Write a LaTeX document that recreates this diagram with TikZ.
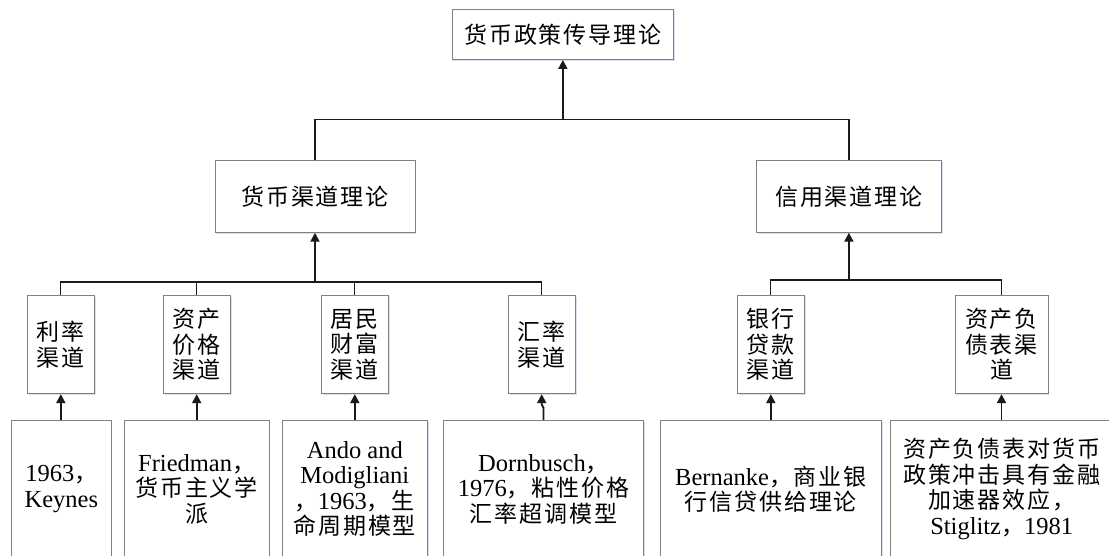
\documentclass[tikz,border=0pt]{standalone}
\usepackage{fontspec}
\setmainfont{Liberation Serif}
\newfontfamily\cjk[LetterSpace=8]{Noto Sans CJK SC}
\usetikzlibrary{arrows.meta,shadows}
\newcommand\zhs[1]{{\fontsize{23}{25.5}\cjk #1}}
\definecolor{boxgray}{HTML}{7F7F7F}
\definecolor{linec}{HTML}{1A1A1A}
\definecolor{shadowc}{HTML}{C8D4E6}
\begin{document}
\begin{tikzpicture}[x=1pt,y=-1pt,
  box/.style={draw=boxgray,line width=0.9pt,fill=white,inner sep=0pt,align=center,
    font=\fontsize{24.5}{25.5}\selectfont,
    drop shadow={shadow xshift=1.3pt,shadow yshift=-1.3pt,fill=shadowc,opacity=0.7}},
  chan/.style={box,minimum width=67pt,minimum height=98.4pt},
  bot/.style={box,minimum height=137.7pt},
  conn/.style={draw=linec,line width=1.3pt},
  arr/.style={draw=linec,line width=1.9pt,-{Triangle[width=9pt,length=9pt]}}]
\useasboundingbox (0,0) rectangle (1109,556);
\fill[white] (0,0) rectangle (1109,556);

% top and middle level
\node[box,minimum width=221.7pt,minimum height=50pt] (top) at (562.85,34.5) {\zhs{货币政策传导理论}};
\node[box,minimum width=200pt,minimum height=71.6pt] (m1) at (315,196.5) {\zhs{货币渠道理论}};
\node[box,minimum width=184.8pt,minimum height=71.6pt] (m2) at (848.9,196.5) {\zhs{信用渠道理论}};

% channel boxes
\node[chan] (c1) at (60.8,344.5) {\zhs{利率}\\\zhs{渠道}};
\node[chan] (c2) at (196.7,344.5) {\zhs{资产}\\\zhs{价格}\\\zhs{渠道}};
\node[chan] (c3) at (354.8,344.5) {\zhs{居民}\\\zhs{财富}\\\zhs{渠道}};
\node[chan] (c4) at (541.7,344.5) {\zhs{汇率}\\\zhs{渠道}};
\node[chan] (c5) at (770.8,344.5) {\zhs{银行}\\\zhs{贷款}\\\zhs{渠道}};
\node[chan,minimum width=93pt] (c6) at (1001.5,344.5) {\zhs{资产负}\\\zhs{债表渠}\\\zhs{道}};

% bottom boxes
\node[bot,minimum width=99.3pt] (b1) at (61.35,489.15) {1963\zhs{，}\\Keynes};
\node[bot,minimum width=144.7pt] (b2) at (196.65,489.15) {Friedman\zhs{，}\\\zhs{货币主义学}\\\zhs{派}};
\node[bot,minimum width=145pt] (b3) at (354.8,489.15) {Ando and\\Modigliani\\\zhs{，}1963\zhs{，生}\\\zhs{命周期模型}};
\node[bot,minimum width=200.4pt] (b4) at (543.5,489.15) {Dornbusch\zhs{，}\\1976\zhs{，粘性价格}\\\zhs{汇率超调模型}};
\node[bot,minimum width=221.2pt] (b5) at (770.9,489.15) {Bernanke\zhs{，商业银}\\\zhs{行信贷供给理论}};
\node[bot,minimum width=222pt] (b6) at (1001.7,489.15) {\zhs{资产负债表对货币}\\\zhs{政策冲击具有金融}\\\zhs{加速器效应，}\\Stiglitz\zhs{，}1981};

% connectors: top level
\coordinate (jt) at (562.85,119.5);
\draw[conn] (m1.north) |- (jt) -| (m2.north);
\draw[arr] (jt) -- (top.south);

% connectors: money channel group
\coordinate (jl) at (315,282);
\draw[conn] (c1.north) |- (c4.north |- jl) -- (c4.north);
\draw[conn] (c2.north) -- (c2.north |- jl);
\draw[conn] (c3.north) -- (c3.north |- jl);
\draw[arr] (jl) -- (m1.south);

% connectors: credit channel group
\coordinate (jr) at (848.9,280);
\draw[conn] (c5.north) |- (c6.north |- jr) -- (c6.north);
\draw[arr] (jr) -- (m2.south);

% bottom arrows
\draw[arr] (c1.south |- b1.north) -- (c1.south);
\draw[arr] (c2.south |- b2.north) -- (c2.south);
\draw[arr] (c3.south |- b3.north) -- (c3.south);
\draw[arr] (b4.north) -- ++(0,-12) -- (c4.south |- 0,404.5) -- (c4.south);
\draw[arr] (c5.south |- b5.north) -- (c5.south);
\draw[arr] (c6.south |- b6.north) -- (c6.south);
\end{tikzpicture}
\end{document}
